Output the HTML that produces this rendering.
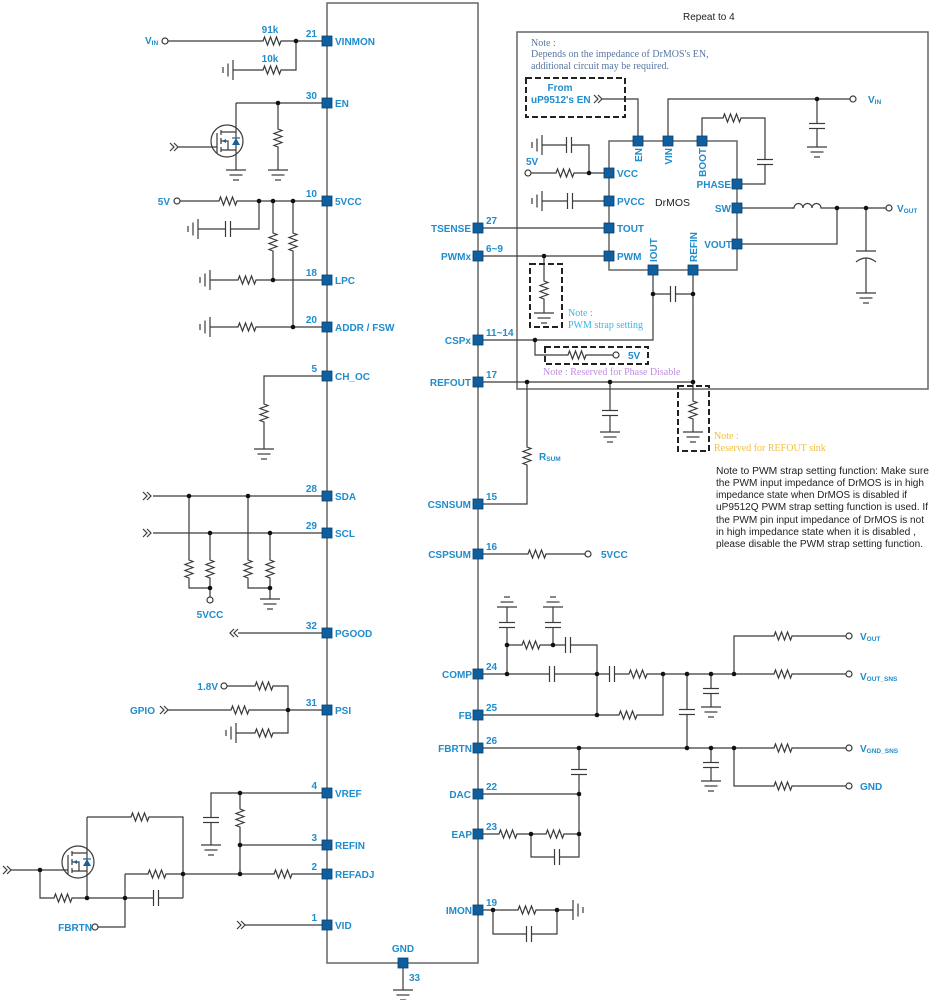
<!DOCTYPE html>
<html><head><meta charset="utf-8"><style>
html,body{margin:0;padding:0;background:#fff}
svg{display:block}
.b{font-family:"Liberation Sans",Arial,sans-serif;font-size:10px;font-weight:bold;fill:#1f8ccd}
.k{font-family:"Liberation Sans",Arial,sans-serif;font-size:10px;fill:#222}
.s{font-family:"Liberation Serif",serif;font-size:10px}
</style></head><body>
<svg width="931" height="1000" viewBox="0 0 931 1000" xmlns="http://www.w3.org/2000/svg">
<defs>
<g id="rh"><line x1="-10" y1="0" x2="10" y2="0" stroke="#fff" stroke-width="4"/><polyline points="-10,0 -9,0 -7.5,-4 -4.5,4 -1.5,-4 1.5,4 4.5,-4 7.5,4 9,0 10,0" fill="none"/></g>
<g id="rv"><use href="#rh" transform="rotate(90)"/></g>
<g id="ch"><line x1="-3" y1="0" x2="3" y2="0" stroke="#fff" stroke-width="4"/><line x1="-2.5" y1="-8" x2="-2.5" y2="8"/><line x1="2.5" y1="-8" x2="2.5" y2="8"/></g>
<g id="cv"><use href="#ch" transform="rotate(90)"/></g>
<g id="gd"><line x1="-10" y1="0" x2="10" y2="0"/><line x1="-6.5" y1="5" x2="6.5" y2="5"/><line x1="-3" y1="10" x2="3" y2="10"/></g>
<g id="gu"><use href="#gd" transform="rotate(180)"/></g>
<g id="gl"><use href="#gd" transform="rotate(90)"/></g>
<g id="gr"><use href="#gd" transform="rotate(-90)"/></g>
<g id="chev"><path d="M0 -4L4 0L0 4M4 -4L8 0L4 4" fill="none"/></g>
</defs>

<!-- outlines -->
<g fill="none" stroke="#666" stroke-width="1.5">
<rect x="327" y="3" width="151" height="960"/>
<rect x="517" y="32" width="411" height="357"/>
<rect x="609" y="141" width="128" height="129"/>
</g>

<!-- wires -->
<g fill="none" stroke="#3a3a3a" stroke-width="1.2">
<path d="M168 41H327M296 41V70H233"/>
<path d="M236 103H327M278 103V170M236 103V132M236 150V170M178 147H217"/>
<path d="M180 201H327M259 201V229H198M273 201V280M293 201V327"/>
<path d="M210 280H327M210 327H327"/>
<path d="M327 376H264V449"/>
<path d="M153 496H327M153 533H327M189 496V588H210M210 533V597M248 496V588H270M270 533V599"/>
<path d="M238 633H327"/>
<path d="M227 686H288V733H236M168 710H327"/>
<path d="M327 793H211V845M240 793V874M240 845H327M183 874H327"/>
<path d="M11 870H68M40 870V898H183M87 817H183V898M87 817V853M87 871V898M125 874V927H98M125 874H183"/>
<path d="M245 925H327"/>
<path d="M403 963V990"/>
<path d="M478 228H609M478 256H609M544 256V313M478 340H653V270M535 340V355H613M653 294H693M693 270V432M478 382H693M610 382V432M527 382V504H478M478 554H585"/>
<path d="M602 99H638V141M668 141V99H850M817 99V147M702 141V118H765V184H737M737 208H886M837 208V244H737M866 208V251M866 258V293M531 173H609M589 173V145H542M542 201H609"/>
<path d="M478 674H846M507 674V607M507 645H597V674M553 645V607M478 715H663V674M597 674V715M687 674V748M711 674V707M734 674V636H846M478 748H846M711 748V781M734 748V786H846M579 748V857H531V834M478 794H579M478 834H579M478 910H573M493 910V934H557V910"/>

<!-- resistors -->
<use href="#rh" x="272" y="41"/><use href="#rh" x="272" y="70"/><use href="#rh" x="228" y="201"/>
<use href="#rh" x="247" y="280"/><use href="#rh" x="247" y="327"/><use href="#rh" x="264" y="686"/>
<use href="#rh" x="240" y="710"/><use href="#rh" x="264" y="733"/><use href="#rh" x="283" y="874"/>
<use href="#rh" x="63" y="898"/><use href="#rh" x="140" y="817"/><use href="#rh" x="157" y="874"/>
<use href="#rh" x="577" y="355"/><use href="#rh" x="565" y="173"/><use href="#rh" x="732" y="118"/>
<use href="#rh" x="537" y="554"/><use href="#rh" x="531" y="645"/><use href="#rh" x="638" y="674"/>
<use href="#rh" x="628" y="715"/><use href="#rh" x="783" y="636"/><use href="#rh" x="783" y="674"/>
<use href="#rh" x="783" y="748"/><use href="#rh" x="783" y="786"/><use href="#rh" x="508" y="834"/>
<use href="#rh" x="555" y="834"/><use href="#rh" x="527" y="910"/>
<use href="#rv" x="278" y="138"/><use href="#rv" x="273" y="242"/><use href="#rv" x="293" y="242"/>
<use href="#rv" x="264" y="413"/><use href="#rv" x="189" y="569"/><use href="#rv" x="210" y="569"/>
<use href="#rv" x="248" y="569"/><use href="#rv" x="270" y="569"/><use href="#rv" x="240" y="818"/>
<use href="#rv" x="544" y="290"/><use href="#rv" x="693" y="410"/><use href="#rv" x="527" y="456"/>
<!-- caps -->
<use href="#ch" x="228" y="229"/><use href="#ch" x="156" y="898"/><use href="#ch" x="673" y="294"/>
<use href="#ch" x="569" y="145"/><use href="#ch" x="570" y="201"/><use href="#ch" x="568" y="645"/>
<use href="#ch" x="552" y="674"/><use href="#ch" x="612" y="674"/><use href="#ch" x="557" y="857"/>
<use href="#ch" x="529" y="934"/>
<use href="#cv" x="211" y="820"/><use href="#cv" x="610" y="413"/><use href="#cv" x="817" y="126"/>
<use href="#cv" x="765" y="162"/><use href="#cv" x="507" y="625"/><use href="#cv" x="553" y="625"/>
<use href="#cv" x="687" y="712"/><use href="#cv" x="711" y="691"/><use href="#cv" x="711" y="765"/>
<use href="#cv" x="579" y="772"/>
<!-- polarized cap -->
<line x1="856" y1="251" x2="876" y2="251"/>
<path d="M856 262Q866 254 876 262"/>
<!-- inductor -->
<line x1="793" y1="208" x2="823" y2="208" stroke="#fff" stroke-width="4"/>
<path d="M792 208h2a4.5 4.5 0 0 1 9 0a4.5 4.5 0 0 1 9 0a4.5 4.5 0 0 1 9 0h2"/>
<!-- grounds -->
<use href="#gd" x="278" y="170"/><use href="#gd" x="236" y="170"/><use href="#gd" x="264" y="449"/>
<use href="#gd" x="270" y="599"/><use href="#gd" x="211" y="845"/><use href="#gd" x="403" y="990"/>
<use href="#gd" x="544" y="313"/><use href="#gd" x="693" y="432"/><use href="#gd" x="610" y="432"/>
<use href="#gd" x="817" y="147"/><use href="#gd" x="866" y="293"/><use href="#gd" x="711" y="707"/>
<use href="#gd" x="711" y="781"/>
<use href="#gu" x="507" y="607"/><use href="#gu" x="553" y="607"/>
<use href="#gl" x="233" y="70"/><use href="#gl" x="198" y="229"/><use href="#gl" x="210" y="280"/>
<use href="#gl" x="210" y="327"/><use href="#gl" x="236" y="733"/><use href="#gl" x="542" y="145"/>
<use href="#gl" x="542" y="201"/>
<use href="#gr" x="573" y="910"/>
<!-- chevrons -->
<use href="#chev" x="170" y="147"/><use href="#chev" x="143" y="496"/><use href="#chev" x="143" y="533"/>
<use href="#chev" x="160" y="710"/><use href="#chev" x="3" y="870"/><use href="#chev" x="237" y="925"/>
<use href="#chev" x="594" y="99"/>
<path d="M234 629L230 633L234 637M238 629L234 633L238 637"/>

<!-- MOSFET top-left -->
<circle cx="227" cy="141" r="16"/>
<path d="M217 133V153M221 130V135M221 138V144M221 147V152M221 132H236M221 150H236M221 141H228V150M236 132V150"/>
<!-- MOSFET bottom-left -->
<circle cx="78" cy="862" r="16"/>
<path d="M68 855V874M72 851V856M72 859V865M72 868V873M72 853H87M72 871H87M72 862H79V871M87 853V871"/>
</g>
<!-- mosfet fills -->
<g fill="#1a5f95" stroke="none">
<polygon points="222,141 226,139 226,143"/>
<polygon points="232,145 240,145 236,138"/>
<polygon points="73,862 77,860 77,864"/>
<polygon points="83,866 91,866 87,859"/>
</g>
<g stroke="#1a5f95" stroke-width="1.2"><line x1="232" y1="138" x2="240" y2="138"/><line x1="83" y1="859" x2="91" y2="859"/></g>

<!-- dashed boxes -->
<g fill="none" stroke="#222" stroke-width="2" stroke-dasharray="6,3">
<rect x="526" y="78" width="99" height="39"/>
<rect x="530" y="264" width="32" height="63"/>
<rect x="545" y="347" width="103" height="17"/>
<rect x="678" y="386" width="31" height="65"/>
</g>

<!-- dots -->
<g fill="#111">
<circle cx="296" cy="41" r="2.3"/><circle cx="278" cy="103" r="2.3"/><circle cx="259" cy="201" r="2.3"/>
<circle cx="273" cy="201" r="2.3"/><circle cx="293" cy="201" r="2.3"/><circle cx="273" cy="280" r="2.3"/>
<circle cx="293" cy="327" r="2.3"/><circle cx="189" cy="496" r="2.3"/><circle cx="248" cy="496" r="2.3"/>
<circle cx="210" cy="533" r="2.3"/><circle cx="270" cy="533" r="2.3"/><circle cx="210" cy="588" r="2.3"/>
<circle cx="270" cy="588" r="2.3"/><circle cx="288" cy="710" r="2.3"/><circle cx="240" cy="793" r="2.3"/>
<circle cx="240" cy="845" r="2.3"/><circle cx="240" cy="874" r="2.3"/><circle cx="183" cy="874" r="2.3"/>
<circle cx="40" cy="870" r="2.3"/><circle cx="87" cy="898" r="2.3"/><circle cx="125" cy="898" r="2.3"/>
<circle cx="544" cy="256" r="2.3"/><circle cx="535" cy="340" r="2.3"/><circle cx="653" cy="294" r="2.3"/>
<circle cx="693" cy="294" r="2.3"/><circle cx="527" cy="382" r="2.3"/><circle cx="610" cy="382" r="2.3"/>
<circle cx="693" cy="382" r="2.3"/><circle cx="817" cy="99" r="2.3"/><circle cx="837" cy="208" r="2.3"/>
<circle cx="866" cy="208" r="2.3"/><circle cx="589" cy="173" r="2.3"/><circle cx="507" cy="674" r="2.3"/>
<circle cx="507" cy="645" r="2.3"/><circle cx="553" cy="645" r="2.3"/><circle cx="597" cy="674" r="2.3"/>
<circle cx="663" cy="674" r="2.3"/><circle cx="687" cy="674" r="2.3"/><circle cx="711" cy="674" r="2.3"/>
<circle cx="734" cy="674" r="2.3"/><circle cx="597" cy="715" r="2.3"/><circle cx="579" cy="748" r="2.3"/>
<circle cx="687" cy="748" r="2.3"/><circle cx="711" cy="748" r="2.3"/><circle cx="734" cy="748" r="2.3"/>
<circle cx="579" cy="794" r="2.3"/><circle cx="579" cy="834" r="2.3"/><circle cx="531" cy="834" r="2.3"/>
<circle cx="493" cy="910" r="2.3"/><circle cx="557" cy="910" r="2.3"/>
</g>
<!-- terminals -->
<g fill="#fff" stroke="#3a3a3a" stroke-width="1.2">
<circle cx="165" cy="41" r="3"/><circle cx="177" cy="201" r="3"/><circle cx="210" cy="600" r="3"/>
<circle cx="224" cy="686" r="3"/><circle cx="95" cy="927" r="3"/><circle cx="616" cy="355" r="3"/>
<circle cx="588" cy="554" r="3"/><circle cx="853" cy="99" r="3"/><circle cx="889" cy="208" r="3"/>
<circle cx="528" cy="173" r="3"/><circle cx="849" cy="636" r="3"/><circle cx="849" cy="674" r="3"/>
<circle cx="849" cy="748" r="3"/><circle cx="849" cy="786" r="3"/>
</g>

<!-- pins -->
<g fill="#0f5f9e" stroke="#0a3f6b" stroke-width="0.8">
<rect x="322" y="36" width="10" height="10"/><rect x="322" y="98" width="10" height="10"/>
<rect x="322" y="196" width="10" height="10"/><rect x="322" y="275" width="10" height="10"/>
<rect x="322" y="322" width="10" height="10"/><rect x="322" y="371" width="10" height="10"/>
<rect x="322" y="491" width="10" height="10"/><rect x="322" y="528" width="10" height="10"/>
<rect x="322" y="628" width="10" height="10"/><rect x="322" y="705" width="10" height="10"/>
<rect x="322" y="788" width="10" height="10"/><rect x="322" y="840" width="10" height="10"/>
<rect x="322" y="869" width="10" height="10"/><rect x="322" y="920" width="10" height="10"/>
<rect x="473" y="223" width="10" height="10"/><rect x="473" y="251" width="10" height="10"/>
<rect x="473" y="335" width="10" height="10"/><rect x="473" y="377" width="10" height="10"/>
<rect x="473" y="499" width="10" height="10"/><rect x="473" y="549" width="10" height="10"/>
<rect x="473" y="669" width="10" height="10"/><rect x="473" y="710" width="10" height="10"/>
<rect x="473" y="743" width="10" height="10"/><rect x="473" y="789" width="10" height="10"/>
<rect x="473" y="829" width="10" height="10"/><rect x="473" y="905" width="10" height="10"/>
<rect x="398" y="958" width="10" height="10"/>
<rect x="633" y="136" width="10" height="10"/><rect x="663" y="136" width="10" height="10"/>
<rect x="697" y="136" width="10" height="10"/>
<rect x="604" y="168" width="10" height="10"/><rect x="604" y="196" width="10" height="10"/>
<rect x="604" y="223" width="10" height="10"/><rect x="604" y="251" width="10" height="10"/>
<rect x="732" y="179" width="10" height="10"/><rect x="732" y="203" width="10" height="10"/>
<rect x="732" y="239" width="10" height="10"/>
<rect x="648" y="265" width="10" height="10"/><rect x="688" y="265" width="10" height="10"/>
</g>

<!-- left pin labels -->
<g class="b">
<text x="335" y="45">VINMON</text><text x="335" y="107">EN</text><text x="335" y="205">5VCC</text>
<text x="335" y="284">LPC</text><text x="335" y="331">ADDR / FSW</text><text x="335" y="380">CH_OC</text>
<text x="335" y="500">SDA</text><text x="335" y="537">SCL</text><text x="335" y="637">PGOOD</text>
<text x="335" y="714">PSI</text><text x="335" y="797">VREF</text><text x="335" y="849">REFIN</text>
<text x="335" y="878">REFADJ</text><text x="335" y="929">VID</text>
</g>
<g class="b" text-anchor="end">
<text x="317" y="37">21</text><text x="317" y="99">30</text><text x="317" y="197">10</text>
<text x="317" y="276">18</text><text x="317" y="323">20</text><text x="317" y="372">5</text>
<text x="317" y="492">28</text><text x="317" y="529">29</text><text x="317" y="629">32</text>
<text x="317" y="706">31</text><text x="317" y="789">4</text><text x="317" y="841">3</text>
<text x="317" y="870">2</text><text x="317" y="921">1</text>
<text x="471" y="232">TSENSE</text><text x="471" y="260">PWMx</text><text x="471" y="344">CSPx</text>
<text x="471" y="386">REFOUT</text><text x="471" y="508">CSNSUM</text><text x="471" y="558">CSPSUM</text>
<text x="472" y="678">COMP</text><text x="472" y="719">FB</text><text x="472" y="752">FBRTN</text>
<text x="471" y="798">DAC</text><text x="472" y="838">EAP</text><text x="472" y="914">IMON</text>
<text x="170" y="205">5V</text><text x="218" y="690">1.8V</text><text x="155" y="714">GPIO</text>
<text x="92" y="931">FBRTN</text>
<text x="731" y="188">PHASE</text><text x="731" y="212">SW</text><text x="732" y="248">VOUT</text>
</g>
<g class="b">
<text x="486" y="224">27</text><text x="486" y="252">6~9</text><text x="486" y="336">11~14</text>
<text x="486" y="378">17</text><text x="486" y="500">15</text><text x="486" y="550">16</text>
<text x="486" y="670">24</text><text x="486" y="711">25</text><text x="486" y="744">26</text>
<text x="486" y="790">22</text><text x="486" y="830">23</text><text x="486" y="906">19</text>
<text x="403" y="952" text-anchor="middle">GND</text><text x="409" y="981">33</text>
<text x="270" y="33" text-anchor="middle">91k</text><text x="270" y="62" text-anchor="middle">10k</text>
<text x="210" y="618" text-anchor="middle">5VCC</text>
<text x="601" y="558">5VCC</text>
<text x="628" y="359">5V</text>
<text x="526" y="165">5V</text>
<text x="617" y="177">VCC</text><text x="617" y="205">PVCC</text><text x="617" y="232">TOUT</text><text x="617" y="260">PWM</text>
<text x="560" y="91" text-anchor="middle">From</text><text x="531" y="103">uP9512's EN</text>
<text transform="translate(642,148) rotate(-90)" text-anchor="end">EN</text>
<text transform="translate(672,148) rotate(-90)" text-anchor="end">VIN</text>
<text transform="translate(706,148) rotate(-90)" text-anchor="end">BOOT</text>
<text transform="translate(657,262) rotate(-90)">IOUT</text>
<text transform="translate(697,262) rotate(-90)">REFIN</text>
<text x="145" y="44">V<tspan font-size="6.5" dy="1">IN</tspan></text>
<text x="868" y="103">V<tspan font-size="6.5" dy="1">IN</tspan></text>
<text x="897" y="212">V<tspan font-size="6.5" dy="1">OUT</tspan></text>
<text x="539" y="460">R<tspan font-size="6.5" dy="1">SUM</tspan></text>
<text x="860" y="640">V<tspan font-size="6.5" dy="1">OUT</tspan></text>
<text x="860" y="680">V<tspan font-size="6.5" dy="1">OUT_SNS</tspan></text>
<text x="860" y="752">V<tspan font-size="6.5" dy="1">GND_SNS</tspan></text>
<text x="860" y="790">GND</text>
</g>
<g class="k">
<text x="655" y="206" font-size="10.5">DrMOS</text>
<text x="683" y="20">Repeat to 4</text>
<text x="716" y="474" textLength="213" lengthAdjust="spacingAndGlyphs">Note to PWM strap setting function: Make sure</text>
<text x="716" y="486" textLength="208" lengthAdjust="spacingAndGlyphs">the PWM input impedance of DrMOS is in high</text>
<text x="716" y="498" textLength="191" lengthAdjust="spacingAndGlyphs">impedance state when DrMOS is disabled if</text>
<text x="716" y="510" textLength="212" lengthAdjust="spacingAndGlyphs">uP9512Q PWM strap setting function is used. If</text>
<text x="716" y="523" textLength="208" lengthAdjust="spacingAndGlyphs">the PWM pin input impedance of DrMOS is not</text>
<text x="716" y="535" textLength="200" lengthAdjust="spacingAndGlyphs">in high impedance state when it is disabled ,</text>
<text x="716" y="547" textLength="207" lengthAdjust="spacingAndGlyphs">please disable the PWM strap setting function.</text>
</g>
<g class="s">
<text x="531" y="46" fill="#5876a0">Note :</text>
<text x="531" y="57" fill="#5876a0">Depends on the impedance of DrMOS's EN,</text>
<text x="531" y="69" fill="#5876a0">additional circuit may be required.</text>
<text x="568" y="316" fill="#35b9e6">Note :</text>
<text x="568" y="328" fill="#35b9e6">PWM strap setting</text>
<text x="543" y="375" fill="#c08ee0">Note : Reserved for Phase Disable</text>
<text x="714" y="439" fill="#f2c040">Note :</text>
<text x="714" y="451" fill="#f2c040">Reserved for REFOUT sink</text>
</g>
</svg>
</body></html>
